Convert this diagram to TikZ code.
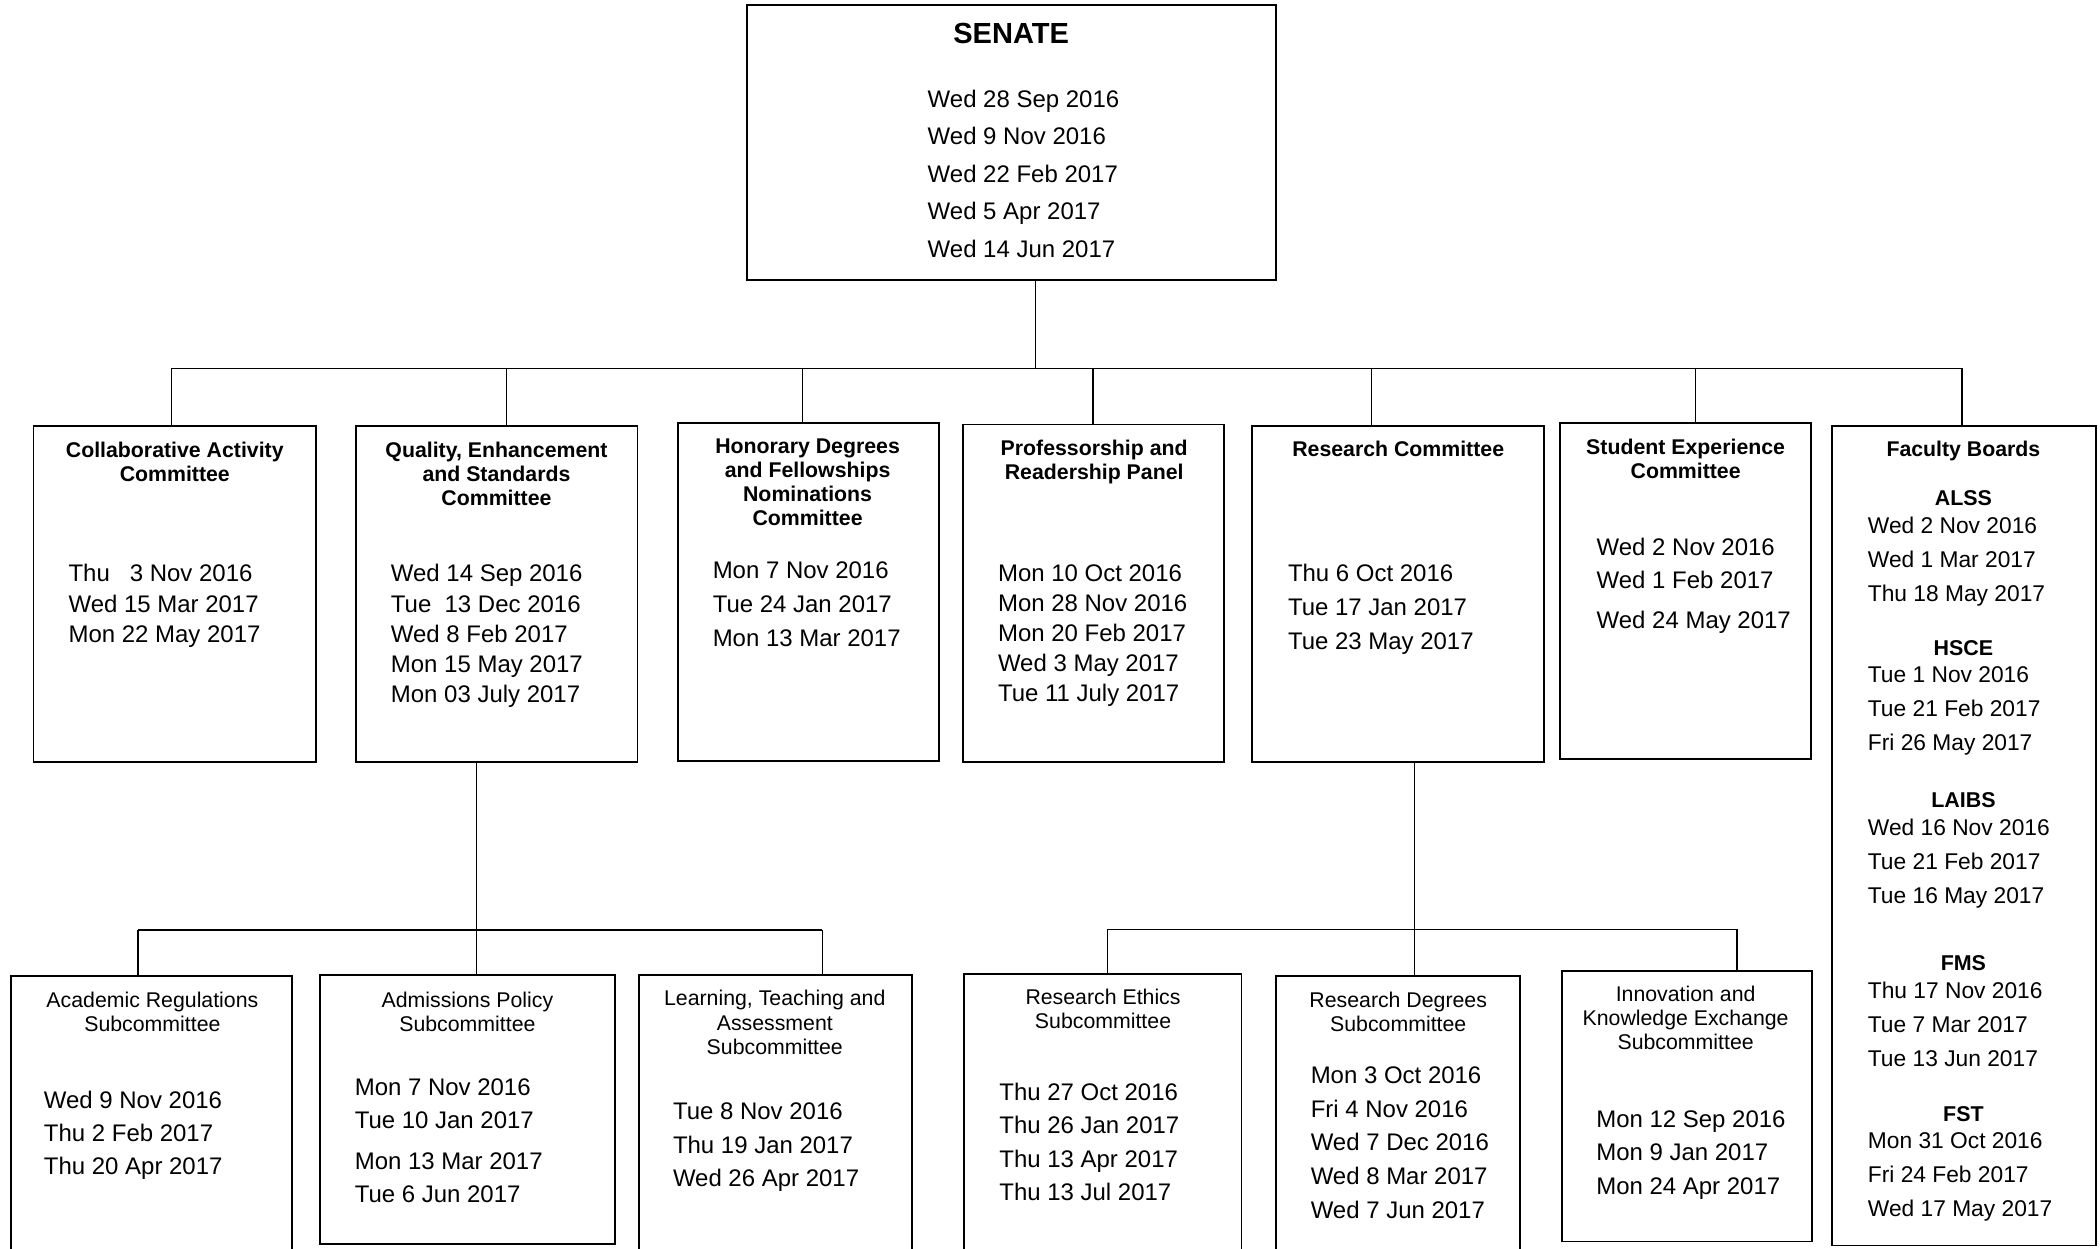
\documentclass[tikz,border=0pt]{standalone}
\usepackage{fontspec}
\setmainfont{Liberation Sans}
\usepackage{tikz}
\tikzset{
  box/.style={draw, line width=1.4pt, anchor=north west, inner sep=0pt, outer sep=0pt},
  link/.style={line width=1pt},
  head/.style={font=\bfseries\fontsize{15.9}{18}\selectfont, align=center, anchor=north, inner sep=0pt},
  subhead/.style={font=\fontsize{15.9}{18.2}\selectfont, align=center, anchor=north, inner sep=0pt},
  dates/.style={font=\fontsize{17.9}{#1}\selectfont, align=left, anchor=north west, inner sep=0pt},
  dates/.default=22.6,
  facbold/.style={font=\bfseries\fontsize{16}{18}\selectfont, anchor=north, inner sep=0pt},
  facdates/.style={font=\fontsize{17}{25.4}\selectfont, align=left, anchor=north west, inner sep=0pt}
}

\begin{document}
\begin{tikzpicture}[x=1pt, y=-1pt]
\clip (0,0) rectangle (1568,932);

% senate
\node[box, minimum width=395pt, minimum height=205pt] (senate) at (558,4) {};
\node[head, font=\bfseries\fontsize{21.7}{24}\selectfont] (senate-t) at (755,17.1) {SENATE};
\node[dates=28] (senate-d) at (692.5,67) {Wed 28 Sep 2016\\Wed 9 Nov 2016\\Wed 22 Feb 2017\\Wed 5 Apr 2017\\Wed 14 Jun 2017};

% committees
\node[box, minimum width=211pt, minimum height=251pt] (collab) at (25,318) {};
\node[head] (collab-t) at (130.5,329.8) {Collaborative Activity\\Committee};
\node[dates] (collab-d) at (51,421.2) {Thu\ \ \ 3 Nov 2016\\Wed 15 Mar 2017\\Mon 22 May 2017};

\node[box, minimum width=210pt, minimum height=251pt] (quality) at (266,318) {};
\node[head] (quality-t) at (370.7,329.8) {Quality, Enhancement\\and Standards\\Committee};
\node[dates] (quality-d) at (291.7,421.2) {Wed 14 Sep 2016\\Tue\ \ 13 Dec 2016\\Wed 8 Feb 2017\\Mon 15 May 2017\\Mon 03 July 2017};

\node[box, minimum width=195pt, minimum height=252pt] (honorary) at (506,316) {};
\node[head] (honorary-t) at (603,327.3) {Honorary Degrees\\and Fellowships\\Nominations\\Committee};
\node[dates=25.2] (honorary-d) at (532,419.6) {Mon 7 Nov 2016\\Tue 24 Jan 2017\\Mon 13 Mar 2017};

\node[box, minimum width=195pt, minimum height=252pt] (prof) at (719,317) {};
\node[head] (prof-t) at (817,328.3) {Professorship and\\Readership Panel};
\node[dates=22.5] (prof-d) at (745,421.2) {Mon 10 Oct 2016\\Mon 28 Nov 2016\\Mon 20 Feb 2017\\Wed 3 May 2017\\Tue 11 July 2017};

\node[box, minimum width=218pt, minimum height=251pt] (research) at (935,318) {};
\node[head] (research-t) at (1044,329) {Research Committee};
\node[dates=25.4] (research-d) at (961.5,421.2) {Thu 6 Oct 2016\\Tue 17 Jan 2017\\Tue 23 May 2017};

\node[box, minimum width=187pt, minimum height=251pt] (student) at (1165,316) {};
\node[head] (student-t) at (1258.6,327.3) {Student Experience\\Committee};
\node[dates=24.8] (student-d) at (1192,401.8) {Wed 2 Nov 2016\\Wed 1 Feb 2017\\[5pt]Wed 24 May 2017};

\node[box, minimum width=197pt, minimum height=612pt] (faculty) at (1368,318) {};
\node[head] (faculty-t) at (1466,329) {Faculty Boards};
\foreach \fac/\y/\list in {
  ALSS/372/{Wed 2 Nov 2016\\Wed 1 Mar 2017\\Thu 18 May 2017},
  HSCE/484/{Tue 1 Nov 2016\\Tue 21 Feb 2017\\Fri 26 May 2017},
  LAIBS/597.3/{Wed 16 Nov 2016\\Tue 21 Feb 2017\\Tue 16 May 2017},
  FMS/719.3/{Thu 17 Nov 2016\\Tue 7 Mar 2017\\Tue 13 Jun 2017},
  FST/831.8/{Mon 31 Oct 2016\\Fri 24 Feb 2017\\Wed 17 May 2017}} {
  \node[facbold] (\fac) at (1466,\y-5.7) {\fac};
  \node[facdates] (\fac-d) at (1394.5,\y+13.7) {\list};
}

% subcommittees
\node[box, minimum width=210pt, minimum height=230pt] (academic) at (8,729) {};
\node[subhead] (academic-t) at (113.8,740.3) {Academic Regulations\\Subcommittee};
\node[dates=24.9] (academic-d) at (32.6,814.2) {Wed 9 Nov 2016\\Thu 2 Feb 2017\\Thu 20 Apr 2017};

\node[box, minimum width=220pt, minimum height=201pt] (admissions) at (239,728) {};
\node[subhead] (admissions-t) at (349,740.3) {Admissions Policy\\Subcommittee};
\node[dates=25.2] (admissions-d) at (264.7,805) {Mon 7 Nov 2016\\Tue 10 Jan 2017\\[4.8pt]Mon 13 Mar 2017\\Tue 6 Jun 2017};

\node[box, minimum width=204pt, minimum height=230pt] (learning) at (477,728) {};
\node[subhead] (learning-t) at (578.5,739.3) {Learning, Teaching and\\Assessment\\Subcommittee};
\node[dates=25.3] (learning-d) at (502.3,822.9) {Tue 8 Nov 2016\\Thu 19 Jan 2017\\Wed 26 Apr 2017};

\node[box, minimum width=207pt, minimum height=230pt] (ethics) at (720,727) {};
\node[subhead] (ethics-t) at (823.6,738.3) {Research Ethics\\Subcommittee};
\node[dates=24.9] (ethics-d) at (746,808.6) {Thu 27 Oct 2016\\Thu 26 Jan 2017\\Thu 13 Apr 2017\\Thu 13 Jul 2017};

\node[box, minimum width=182pt, minimum height=230pt] (degrees) at (953,729) {};
\node[subhead] (degrees-t) at (1044,740.3) {Research Degrees\\Subcommittee};
\node[dates=25.2] (degrees-d) at (978.5,796.2) {Mon 3 Oct 2016\\Fri 4 Nov 2016\\Wed 7 Dec 2016\\Wed 8 Mar 2017\\Wed 7 Jun 2017};

\node[box, minimum width=187pt, minimum height=202pt] (innovation) at (1166,725) {};
\node[subhead] (innovation-t) at (1258.6,735.8) {Innovation and\\Knowledge Exchange\\Subcommittee};
\node[dates=24.9] (innovation-d) at (1191.7,829.1) {Mon 12 Sep 2016\\Mon 9 Jan 2017\\Mon 24 Apr 2017};

% senate to committees
\coordinate (hub) at (773,275);
\draw[link] (hub |- senate.south) -- (hub);
\foreach \x/\b in {128/collab, 378/quality, 599/honorary, 816/prof, 1024/research, 1266/student, 1465/faculty} {
  \coordinate (drop-\b) at (\x,275);
  \draw[link] (drop-\b) -- (drop-\b |- \b.north);
}
\draw[link] (drop-collab) -- (drop-faculty);

% quality to subcommittees
\coordinate (qhub) at (356,694.5);
\draw[link] (qhub |- quality.south) -- (qhub |- admissions.north);
\foreach \x/\b in {103/academic, 614/learning} {
  \coordinate (drop-\b) at (\x,694.5);
  \draw[link] (drop-\b) -- (drop-\b |- \b.north);
}
\draw[link] (drop-academic) -- (drop-learning);

% research to subcommittees
\coordinate (rhub) at (1056,694);
\draw[link] (rhub |- research.south) -- (rhub |- degrees.north);
\foreach \x/\b in {827/ethics, 1297/innovation} {
  \coordinate (drop-\b) at (\x,694);
  \draw[link] (drop-\b) -- (drop-\b |- \b.north);
}
\draw[link] (drop-ethics) -- (drop-innovation);
\end{tikzpicture}
\end{document}
